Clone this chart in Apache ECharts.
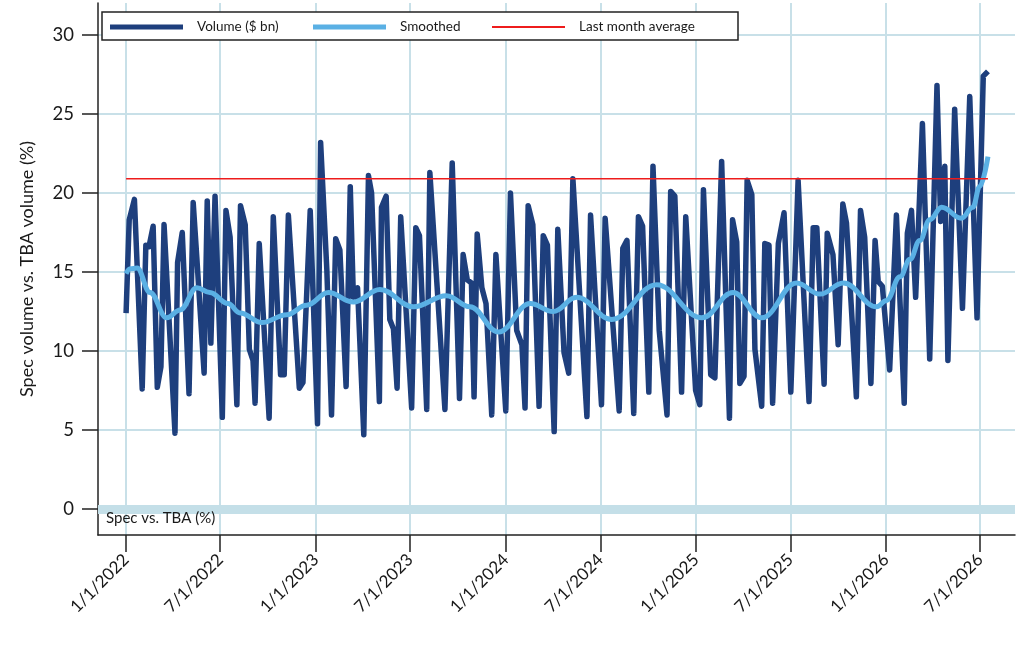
<!DOCTYPE html>
<html>
<head>
<meta charset="utf-8">
<script src="https://cdn.jsdelivr.net/npm/echarts@6/dist/echarts.min.js"></script>
<style>
  html, body { margin: 0; padding: 0; background: #fff; }
  #chart { width: 1024px; height: 655px; }
</style>
</head>
<body>
<div id="chart"></div>
<script>
'use strict';

// days after 1/1/2022 and the weekly volume share
const volDays = [0, 6, 16, 31, 38, 44, 52, 60, 67, 73, 94, 99, 108, 121, 129, 136, 150, 156, 163, 171,
  185, 192, 200, 213, 220, 229, 237, 244, 248, 256, 275, 283, 297, 304, 312, 333, 340, 354, 368, 374,
  386, 395, 403, 411, 423, 431, 437, 445, 457, 466, 472, 487, 491, 500, 507, 514, 521, 528, 549, 557,
  564, 578, 584, 613, 627, 641, 648, 656, 664, 669, 675, 684, 692, 703, 711, 730, 739, 751, 761, 767,
  773, 782, 794, 802, 810, 823, 830, 842, 851, 859, 886, 893, 914, 921, 948, 955, 963, 976, 985, 993,
  1005, 1013, 1025, 1040, 1047, 1055, 1068, 1076, 1095, 1103, 1110, 1124, 1132, 1145, 1160, 1166, 1174, 1180, 1188, 1194,
  1203, 1209, 1222, 1228, 1236, 1243, 1254, 1265, 1278, 1292, 1313, 1321, 1328, 1342, 1348, 1359, 1369, 1378, 1385, 1395,
  1404, 1412, 1420, 1432, 1440, 1446, 1454, 1468, 1481, 1496, 1502, 1510, 1518, 1531, 1545, 1559, 1566, 1574, 1580, 1593,
  1608, 1622, 1636, 1648, 1657];
const volValues = [12.4, 18.3, 19.6, 7.6, 16.7, 16.6, 17.9, 7.7, 9.0, 18.0, 4.8, 15.6, 17.5, 7.3, 19.4, 15.9, 8.6, 19.5, 10.5, 19.8,
  5.8, 18.9, 17.2, 6.6, 19.2, 18.0, 10.1, 9.4, 6.7, 16.8, 5.75, 18.5, 8.5, 8.5, 18.6, 7.65, 8.0, 18.9, 5.4, 23.2,
  15.1, 5.95, 17.1, 16.4, 7.75, 20.4, 13.4, 14.0, 4.7, 21.1, 20.0, 6.8, 19.1, 19.8, 12.0, 11.4, 7.65, 18.5, 6.4, 17.8,
  17.3, 6.3, 21.3, 6.3, 21.9, 7.0, 16.1, 14.5, 14.3, 7.1, 17.4, 14.0, 13.0, 5.95, 16.1, 6.2, 20.0, 11.3, 10.4, 6.4,
  19.2, 18.0, 6.5, 17.3, 16.7, 4.9, 17.7, 9.9, 8.6, 20.9, 5.85, 18.6, 6.6, 18.4, 6.2, 16.5, 17.0, 6.05, 18.5, 17.9,
  7.4, 21.7, 11.3, 5.95, 20.1, 19.8, 7.4, 18.5, 7.5, 6.6, 20.2, 8.5, 8.3, 22.0, 5.75, 18.3, 16.9, 7.95, 8.4, 20.8,
  19.9, 10.1, 6.5, 16.8, 16.7, 6.7, 16.8, 18.75, 7.4, 20.8, 6.8, 17.8, 17.8, 7.9, 17.45, 16.1, 10.4, 19.3, 18.1, 12.4,
  7.1, 18.9, 17.2, 7.95, 17.0, 14.4, 14.1, 8.8, 18.6, 6.7, 17.45, 18.9, 13.4, 24.4, 9.5, 26.8, 18.2, 21.7, 9.4, 25.3,
  12.7, 26.1, 12.1, 27.4, 27.7];

// smoothed trend
const smDays = [0, 8, 21, 46, 78, 104, 136, 161, 196, 219, 261, 309, 347, 389, 437, 488, 552, 616, 661, 716,
  777, 821, 866, 934, 1020, 1107, 1167, 1222, 1289, 1334, 1379, 1443, 1462, 1488, 1507, 1526, 1545, 1568, 1606, 1628,
  1641, 1657];
const smValues = [14.9, 15.2, 15.25, 13.7, 12.1, 12.6, 14.0, 13.7, 13.0, 12.4, 11.8, 12.3, 12.9, 13.7, 13.1, 13.9, 12.8, 13.5, 12.8, 11.2,
  13.0, 12.5, 13.4, 12.0, 14.2, 12.1, 13.7, 12.1, 14.3, 13.6, 14.3, 12.8, 13.2, 14.7, 15.8, 17.0, 18.3, 19.1, 18.4, 19.1,
  20.4, 22.3];

// last month average, drawn across the whole span
const avgDays = [0, 1657];
const avgValue = 20.9;

const yTicks = [0, 5, 10, 15, 20, 25, 30];
const xTickDates = ['2022-01-01', '2022-07-01', '2023-01-01', '2023-07-01', '2024-01-01',
  '2024-07-01', '2025-01-01', '2025-07-01', '2026-01-01', '2026-07-01'];

const FONT = 'Lato';
const INK = '#1a1a1a';
const NAVY = '#1e3f7d';
const SKY = '#5ab0e4';
const RED = '#ee1c1c';

function dayToTime(d) {
  return new Date(2022, 0, 1 + d).getTime();
}
function isoToTime(s) {
  const p = s.split('-').map(Number);
  return new Date(p[0], p[1] - 1, p[2]).getTime();
}

const xTicks = xTickDates.map(isoToTime);
const volData = volDays.map((d, i) => [dayToTime(d), volValues[i]]);
const smData = smDays.map((d, i) => [dayToTime(d), smValues[i]]);
const avgData = avgDays.map(d => [dayToTime(d), avgValue]);

var chart = echarts.init(document.getElementById('chart'));

// one legend per entry so each sample can sit where the original puts it
function legendAt(left, name, color, h) {
  return {
    data: [{ name: name, icon: 'rect', itemStyle: { color: color } }],
    left: left,
    top: 15,
    itemWidth: 73,
    itemHeight: h,
    selectedMode: false,
    z: 10,
    textStyle: { fontFamily: FONT, fontSize: 13.5, color: INK, padding: [0, 0, 0, 9] }
  };
}

var option = {
  animation: false,
  backgroundColor: '#fff',
  grid: { left: 98, right: 9, top: 3, bottom: 120 },
  legend: [
    legendAt(105, 'Volume ($ bn)', NAVY, 5),
    legendAt(308, 'Smoothed', SKY, 5),
    legendAt(487, 'Last month average', RED, 2)
  ],
  graphic: [
    {
      type: 'rect',
      z: 8,
      shape: { x: 102, y: 12, width: 636, height: 28 },
      style: { fill: '#fff', stroke: '#222', lineWidth: 1.5 }
    },
    {
      type: 'text',
      z: 8,
      left: 106,
      top: 511,
      style: { text: 'Spec vs. TBA (%)', fontFamily: FONT, fontSize: 15, fill: INK }
    }
  ],
  xAxis: {
    type: 'value',
    min: dayToTime(-54),
    max: dayToTime(1709),
    axisLine: { onZero: false, lineStyle: { color: '#222', width: 1.5 } },
    axisTick: { customValues: xTicks, length: 17, lineStyle: { color: '#222', width: 1.5 } },
    splitLine: { show: true, lineStyle: { color: '#c8e0e8', width: 2 } },
    axisLabel: {
      customValues: xTicks,
      rotate: 45,
      margin: 22,
      fontFamily: FONT,
      fontSize: 17,
      color: INK,
      formatter: function (v) {
        const d = new Date(v);
        return (d.getMonth() + 1) + '/' + d.getDate() + '/' + d.getFullYear();
      }
    }
  },
  yAxis: {
    type: 'value',
    min: -1.645,
    max: 32.025,
    name: 'Spec volume vs. TBA volume (%)',
    nameLocation: 'middle',
    nameGap: 62,
    nameTextStyle: { fontFamily: FONT, fontSize: 18, color: INK },
    axisLine: { show: true, lineStyle: { color: '#222', width: 1.5 } },
    axisTick: { show: true, customValues: yTicks, length: 16, lineStyle: { color: '#222', width: 1.5 } },
    splitLine: { show: true, lineStyle: { color: '#c8e0e8', width: 2 } },
    axisLabel: {
      customValues: yTicks,
      margin: 24,
      fontFamily: FONT,
      fontSize: 18.5,
      color: INK
    }
  },
  series: [
    {
      name: 'Volume ($ bn)',
      type: 'line',
      data: volData,
      showSymbol: false,
      symbol: 'none',
      lineStyle: { color: NAVY, width: 5.5, join: 'round' },
      itemStyle: { color: NAVY },
      z: 3,
      markLine: {
        silent: true,
        symbol: 'none',
        label: { show: false },
        lineStyle: { color: '#c4dfe8', width: 9, type: 'solid' },
        data: [{ yAxis: 0 }],
        z: 1
      }
    },
    {
      name: 'Smoothed',
      type: 'line',
      data: smData,
      showSymbol: false,
      symbol: 'none',
      smooth: 0.4,
      smoothMonotone: 'x',
      lineStyle: { color: SKY, width: 5 },
      itemStyle: { color: SKY },
      z: 4
    },
    {
      name: 'Last month average',
      type: 'line',
      data: avgData,
      showSymbol: false,
      symbol: 'none',
      lineStyle: { color: RED, width: 1.5 },
      itemStyle: { color: RED },
      z: 5
    }
  ]
};

chart.setOption(option);
</script>
</body>
</html>
